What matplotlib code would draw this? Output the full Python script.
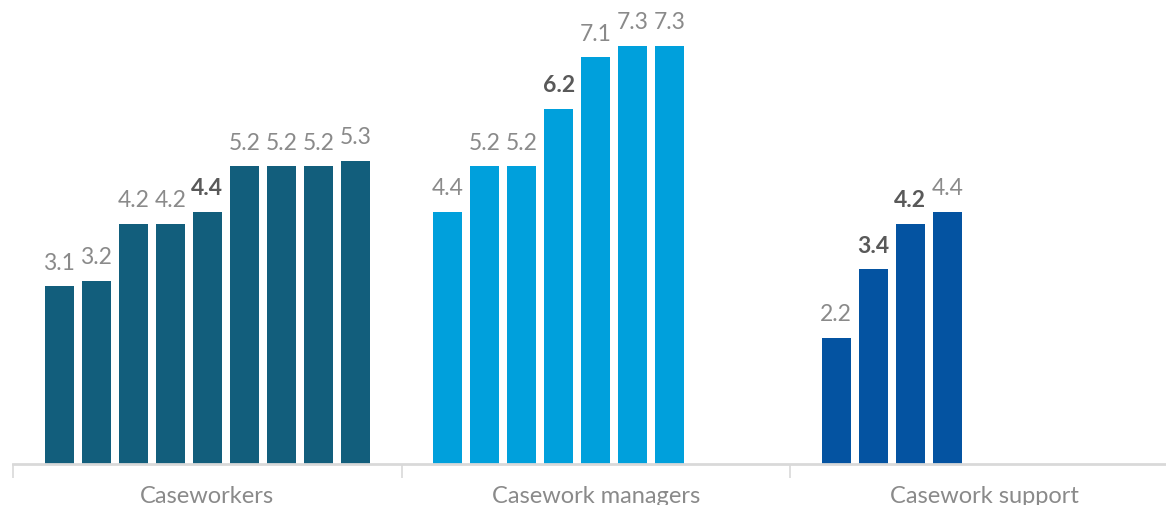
import matplotlib.pyplot as plt

groups = ['Caseworkers', 'Casework managers', 'Casework support']
caseworkers = [3.1, 3.2, 4.2, 4.2, 4.4, 5.2, 5.2, 5.2, 5.3]
managers = [4.4, 5.2, 5.2, 6.2, 7.1, 7.3, 7.3]
support = [2.2, 3.4, 4.2, 4.4]
# which labels are printed in bold, per group
bold_idx = [[4], [3], [1, 2]]
colors = ['#125E7C', '#00A0DC', '#0453A1']

series = [caseworkers, managers, support]

plt.rcParams['font.family'] = ['Lato', 'DejaVu Sans']

fig = plt.figure(figsize=(11.66, 5.06), dpi=100)
ax = fig.add_axes([13 / 1166, 41 / 506, 1 - 13 / 1166, 1 - 41 / 506])

group_w = 10.5    # slots per group
first = 1.25      # centre of first bar within a group
bar_w = 0.78

for g, vals in enumerate(series):
    xs = [g * group_w + first + i for i in range(len(vals))]
    ax.bar(xs, vals, width=bar_w, color=colors[g], zorder=2)
    for i, (x, v) in enumerate(zip(xs, vals)):
        if i in bold_idx[g]:
            ax.text(x, v + 0.24, f'{v:.1f}', ha='center', va='bottom',
                    fontsize=16.5, fontweight='bold', color='#595959')
        else:
            ax.text(x, v + 0.24, f'{v:.1f}', ha='center', va='bottom',
                    fontsize=16.5, fontweight='normal', color='#8a8a8a')

ax.set_xlim(0, 1153 / 37)
ax.set_ylim(0, 465 / 57.26)

for s in ['top', 'right', 'left']:
    ax.spines[s].set_visible(False)
ax.spines['bottom'].set_color('#d9d9d9')
ax.spines['bottom'].set_linewidth(2)
ax.set_yticks([])

# separators between groups, labels in the middle
ax.set_xticks([0, group_w, 2 * group_w])
ax.set_xticklabels([])
ax.tick_params(axis='x', which='major', length=10, width=1.2, color='#d9d9d9')
ax.set_xticks([g * group_w + group_w / 2 for g in range(3)], minor=True)
ax.set_xticklabels(groups, minor=True, fontsize=17, fontweight='normal', color='#8a8a8a')
ax.tick_params(axis='x', which='minor', length=0, pad=15)

fig.savefig('out.png', dpi=100)
